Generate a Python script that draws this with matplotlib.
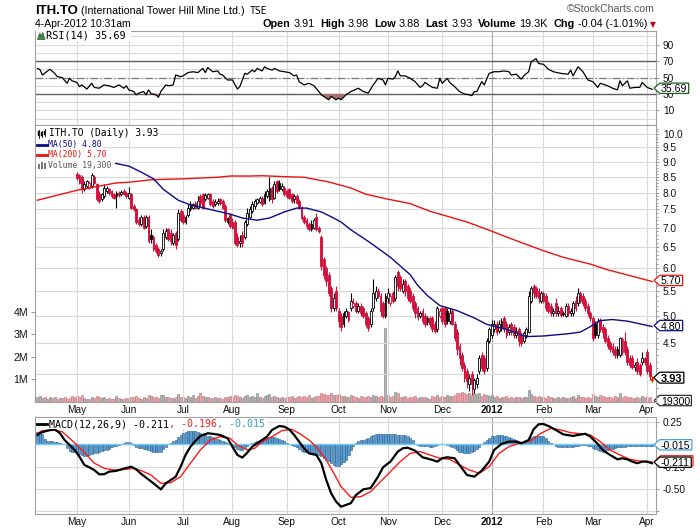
import numpy as np
import pandas as pd
import matplotlib
matplotlib.use("Agg")
import matplotlib.pyplot as plt
from matplotlib.path import Path
from matplotlib.patches import Rectangle, Polygon
from matplotlib.lines import Line2D
from matplotlib.ticker import NullFormatter

plt.rcParams['font.family'] = ['Liberation Sans', 'DejaVu Sans']

# ------------------------------------------------------------------ data
symbol = "ITH.TO"
company = "(International Tower Hill Mine Ltd.)"
exchange = "TSE"
stamp = "4-Apr-2012 10:31am"
quote_labels = ["Open", "High", "Low", "Last", "Volume", "Chg"]
quote_values = ["3.91", "3.98", "3.88", "3.93", "19.3K", "-0.04 (-1.01%)"]

holidays = ["2011-04-22", "2011-05-23", "2011-07-01", "2011-08-01", "2011-09-05",
            "2011-10-10", "2011-12-26", "2011-12-27", "2012-01-02", "2012-02-20"]
dates = pd.bdate_range("2011-04-07", "2012-04-04")
dates = dates[~dates.isin(pd.to_datetime(holidays))]

open_ = [8.95, 9.05, 9.20, 9.35, 9.25, 9.45, 9.55, 9.40, 9.50, 9.35,
         9.45, 9.30, 9.20, 9.10, 9.05, 8.95, 8.60, 8.55, 8.50, 8.10,
         8.20, 8.15, 8.20, 8.50, 8.25, 7.95, 7.80, 7.90, 8.05, 8.10,
         8.05, 7.95, 7.90, 8.00, 7.95, 8.05, 8.00, 7.85, 7.95, 7.60,
         7.50, 7.20, 7.10, 7.30, 7.05, 7.30, 6.80, 6.75, 6.55, 6.45,
         6.35, 6.45, 6.75, 6.95, 6.85, 6.60, 6.85, 6.70, 7.45, 7.35,
         7.15, 7.35, 7.50, 7.55, 7.70, 7.55, 7.90, 7.95, 7.80, 7.85,
         7.95, 7.75, 7.65, 7.70, 7.80, 7.75, 7.60, 7.15, 7.35, 7.15,
         7.15, 6.75, 6.60, 6.80, 6.75, 7.10, 7.30, 7.45, 7.60, 7.70,
         7.72, 7.85, 7.70, 7.90, 7.80, 8.15, 7.85, 8.35, 8.30, 8.10,
         8.15, 8.05, 8.10, 7.95, 7.80, 7.90, 7.75, 7.55, 7.30, 7.20,
         7.10, 6.95, 7.00, 7.30, 7.00, 6.75, 6.20, 6.00, 5.85, 5.55,
         5.15, 5.50, 5.10, 5.00, 4.85, 5.00, 5.08, 5.15, 5.20, 5.25,
         5.10, 5.20, 5.15, 5.05, 4.95, 4.85, 5.15, 5.35, 5.50, 5.40,
         5.25, 5.00, 5.35, 5.25, 5.45, 5.35, 5.90, 5.80, 5.50, 5.70,
         5.60, 5.50, 5.40, 5.25, 5.15, 5.00, 5.10, 5.00, 4.88, 4.95,
         4.95, 4.85, 4.75, 5.00, 5.15, 5.15, 5.10, 4.90, 5.10, 4.85,
         4.70, 4.45, 4.30, 4.15, 4.05, 3.85, 4.00, 3.78, 3.85, 4.05,
         4.30, 4.25, 4.10, 4.55, 4.65, 4.75, 4.85, 4.72, 4.80, 4.95,
         4.85, 4.70, 4.85, 4.80, 4.65, 4.75, 4.65, 4.55, 4.65, 4.70,
         5.30, 5.60, 5.55, 5.50, 5.30, 5.45, 5.40, 5.25, 5.20, 5.05,
         5.25, 5.05, 5.15, 5.03, 5.00, 5.20, 5.05, 5.05, 5.30, 5.25,
         5.45, 5.40, 5.30, 5.20, 5.05, 4.95, 4.85, 4.65, 4.90, 4.80,
         4.75, 4.60, 4.50, 4.45, 4.40, 4.30, 4.30, 4.35, 4.55, 4.40,
         4.25, 4.25, 4.12, 4.20, 4.15, 4.20, 4.25, 4.35, 4.15, 3.91]

high = [9.10, 9.25, 9.40, 9.40, 9.50, 9.65, 9.60, 9.60, 9.55, 9.50,
        9.50, 9.35, 9.30, 9.20, 9.10, 9.00, 8.65, 8.60, 8.55, 8.35,
        8.40, 8.35, 8.62, 8.55, 8.30, 8.05, 8.00, 8.25, 8.20, 8.15,
        8.08, 8.00, 8.05, 8.05, 8.08, 8.10, 8.05, 8.18, 8.00, 7.65,
        7.55, 7.30, 7.35, 7.35, 7.35, 7.35, 6.95, 6.80, 6.60, 6.50,
        6.45, 6.95, 7.00, 7.00, 6.95, 6.85, 6.90, 7.50, 7.50, 7.45,
        7.35, 7.65, 7.75, 7.70, 7.75, 7.90, 7.95, 8.00, 7.98, 8.00,
        8.00, 7.80, 7.80, 7.85, 7.85, 7.80, 7.65, 7.30, 7.40, 7.25,
        7.20, 6.85, 6.80, 6.90, 7.20, 7.55, 7.60, 7.75, 7.80, 7.85,
        7.90, 7.90, 8.05, 8.10, 8.50, 8.20, 8.35, 8.40, 8.40, 8.30,
        8.20, 8.10, 8.15, 8.00, 7.95, 7.95, 7.80, 7.60, 7.35, 7.25,
        7.15, 7.20, 7.25, 7.40, 7.05, 6.80, 6.25, 6.05, 5.90, 5.60,
        5.45, 5.60, 5.15, 5.05, 5.10, 5.15, 5.10, 5.45, 5.35, 5.30,
        5.25, 5.25, 5.20, 5.10, 5.00, 5.15, 5.75, 5.60, 5.55, 5.45,
        5.30, 5.45, 5.55, 5.45, 5.50, 5.85, 5.95, 5.85, 5.75, 5.75,
        5.65, 5.55, 5.45, 5.30, 5.20, 5.10, 5.15, 5.05, 5.00, 5.00,
        5.00, 4.90, 5.20, 5.15, 5.20, 5.20, 5.15, 5.15, 5.15, 4.90,
        4.75, 4.50, 4.35, 4.20, 4.10, 4.00, 4.05, 3.95, 4.00, 4.30,
        4.35, 4.30, 4.60, 4.80, 4.92, 4.92, 4.90, 4.92, 4.95, 5.00,
        4.90, 4.85, 4.88, 4.85, 4.80, 4.80, 4.70, 4.72, 4.80, 5.50,
        5.60, 5.65, 5.60, 5.55, 5.50, 5.50, 5.45, 5.30, 5.25, 5.15,
        5.35, 5.20, 5.20, 5.10, 5.25, 5.25, 5.15, 5.30, 5.40, 5.55,
        5.50, 5.45, 5.35, 5.25, 5.10, 5.00, 4.90, 4.95, 4.95, 4.85,
        4.80, 4.65, 4.55, 4.50, 4.45, 4.45, 4.62, 4.62, 4.70, 4.45,
        4.30, 4.30, 4.20, 4.25, 4.18, 4.35, 4.28, 4.40, 4.20, 3.98]

low = [8.90, 9.00, 9.15, 9.15, 9.20, 9.40, 9.35, 9.35, 9.30, 9.30,
       9.25, 9.15, 9.05, 9.00, 8.92, 8.88, 8.40, 8.25, 8.00, 8.05,
       8.15, 8.10, 8.15, 8.25, 7.75, 7.70, 7.75, 7.85, 8.00, 7.92,
       7.85, 7.80, 7.55, 7.88, 7.90, 7.92, 7.85, 7.80, 7.50, 7.45,
       7.10, 7.05, 7.05, 6.95, 7.00, 6.60, 6.60, 6.40, 6.35, 6.25,
       6.28, 6.40, 6.70, 6.65, 6.55, 6.55, 6.45, 6.65, 7.15, 7.10,
       7.10, 7.30, 7.45, 7.50, 7.50, 7.50, 7.60, 7.50, 7.75, 7.80,
       7.60, 7.55, 7.60, 7.62, 7.62, 7.50, 7.15, 7.10, 7.00, 6.95,
       6.55, 6.50, 6.50, 6.50, 6.70, 7.05, 7.25, 7.40, 7.50, 7.65,
       7.68, 7.60, 7.65, 7.85, 7.75, 7.70, 7.80, 8.00, 8.05, 8.05,
       7.90, 7.85, 7.80, 7.70, 7.70, 7.65, 7.50, 7.20, 7.10, 6.95,
       6.90, 6.92, 6.95, 6.90, 6.85, 5.95, 5.75, 5.60, 5.40, 5.08,
       5.10, 5.10, 4.80, 4.72, 4.80, 4.95, 4.88, 5.10, 5.15, 5.05,
       5.05, 5.00, 4.95, 4.80, 4.72, 4.80, 5.10, 5.30, 5.35, 5.00,
       4.95, 4.95, 5.25, 5.20, 5.25, 5.30, 5.50, 5.50, 5.45, 5.40,
       5.30, 5.25, 5.10, 4.95, 4.92, 4.95, 4.85, 4.80, 4.82, 4.80,
       4.70, 4.68, 4.70, 4.95, 4.85, 4.80, 4.85, 4.85, 4.82, 4.55,
       4.30, 4.15, 4.05, 3.88, 3.80, 3.75, 3.70, 3.72, 3.80, 4.00,
       4.05, 4.00, 4.05, 4.50, 4.60, 4.70, 4.65, 4.68, 4.72, 4.70,
       4.60, 4.65, 4.65, 4.60, 4.60, 4.45, 4.45, 4.50, 4.60, 4.68,
       5.25, 5.35, 5.35, 5.25, 5.25, 5.25, 5.10, 5.05, 5.00, 5.00,
       5.00, 5.00, 4.98, 5.00, 4.98, 5.00, 5.00, 5.00, 5.10, 5.20,
       5.25, 5.20, 5.10, 5.00, 4.90, 4.55, 4.60, 4.60, 4.70, 4.60,
       4.50, 4.40, 4.35, 4.30, 4.25, 4.25, 4.28, 4.30, 4.30, 4.15,
       4.10, 4.08, 4.05, 4.00, 3.98, 4.15, 4.15, 4.00, 3.92, 3.88]

close = [9.05, 9.20, 9.35, 9.25, 9.45, 9.55, 9.40, 9.50, 9.35, 9.45,
         9.30, 9.20, 9.10, 9.05, 8.95, 8.90, 8.45, 8.30, 8.10, 8.25,
         8.35, 8.30, 8.55, 8.30, 7.80, 7.75, 7.95, 8.15, 8.15, 7.98,
         7.90, 7.85, 7.98, 7.92, 8.02, 7.95, 7.90, 7.98, 7.55, 7.50,
         7.15, 7.10, 7.30, 7.00, 7.30, 6.65, 6.70, 6.45, 6.40, 6.30,
         6.40, 6.85, 6.90, 6.70, 6.65, 6.80, 6.55, 7.40, 7.20, 7.15,
         7.30, 7.55, 7.65, 7.65, 7.55, 7.75, 7.70, 7.55, 7.92, 7.95,
         7.65, 7.60, 7.72, 7.75, 7.70, 7.55, 7.20, 7.25, 7.05, 7.00,
         6.60, 6.55, 6.65, 6.60, 7.15, 7.40, 7.50, 7.65, 7.75, 7.80,
         7.85, 7.65, 7.95, 8.05, 8.15, 7.80, 8.25, 8.05, 8.10, 8.20,
         7.95, 7.90, 7.85, 7.75, 7.90, 7.70, 7.55, 7.25, 7.15, 7.05,
         6.95, 7.10, 7.20, 6.95, 6.90, 6.05, 5.85, 5.70, 5.45, 5.15,
         5.35, 5.15, 4.90, 4.80, 5.05, 5.10, 4.92, 5.30, 5.25, 5.10,
         5.20, 5.05, 5.00, 4.85, 4.78, 5.10, 5.45, 5.50, 5.40, 5.10,
         5.00, 5.40, 5.45, 5.40, 5.30, 5.80, 5.60, 5.55, 5.65, 5.50,
         5.35, 5.30, 5.15, 5.05, 4.98, 5.05, 4.90, 4.85, 4.95, 4.85,
         4.75, 4.72, 5.15, 5.10, 4.90, 4.85, 4.90, 5.05, 4.85, 4.60,
         4.40, 4.25, 4.10, 3.95, 3.90, 3.95, 3.85, 3.92, 3.95, 4.25,
         4.10, 4.05, 4.55, 4.75, 4.85, 4.85, 4.70, 4.85, 4.90, 4.75,
         4.65, 4.80, 4.70, 4.65, 4.72, 4.55, 4.50, 4.68, 4.75, 5.40,
         5.55, 5.45, 5.40, 5.35, 5.45, 5.30, 5.15, 5.10, 5.05, 5.10,
         5.05, 5.10, 5.02, 5.06, 5.20, 5.05, 5.10, 5.25, 5.15, 5.45,
         5.30, 5.25, 5.15, 5.05, 4.95, 4.60, 4.65, 4.90, 4.75, 4.70,
         4.55, 4.45, 4.40, 4.35, 4.30, 4.40, 4.60, 4.58, 4.35, 4.20,
         4.15, 4.12, 4.15, 4.05, 4.00, 4.25, 4.20, 4.05, 3.97, 3.93]

volume_k = [210, 260, 180, 230, 150, 200, 170, 240, 120, 190,
            160, 220, 130, 180, 250, 200, 280, 230, 320, 170,
            150, 140, 210, 180, 250, 230, 160, 200, 140, 180,
            120, 150, 260, 170, 130, 150, 190, 160, 240, 200,
            280, 180, 150, 220, 170, 300, 260, 210, 240, 180,
            320, 290, 200, 240, 170, 160, 210, 350, 230, 200,
            180, 260, 220, 300, 190, 280, 410, 250, 200, 230,
            180, 160, 220, 190, 170, 150, 240, 200, 260, 230,
            330, 280, 220, 190, 250, 300, 240, 260, 200, 380,
            210, 170, 250, 300, 350, 240, 280, 220, 190, 210,
            170, 230, 200, 250, 180, 220, 260, 200, 280, 240,
            300, 190, 220, 260, 280, 420, 360, 300, 330, 380,
            290, 310, 340, 280, 260, 240, 200, 300, 250, 220,
            180, 260, 210, 240, 280, 230, 330, 250, 200, 280,
            240, 3300, 300, 220, 250, 450, 380, 240, 200, 260,
            190, 230, 210, 250, 170, 200, 240, 210, 180, 150,
            260, 200, 320, 240, 260, 230, 290, 250, 280, 330,
            380, 420, 460, 390, 350, 400, 300, 380, 340, 410,
            280, 350, 300, 260, 300, 240, 250, 180, 220, 200,
            260, 190, 230, 170, 200, 240, 180, 210, 220, 520,
            360, 280, 230, 250, 200, 220, 180, 250, 200, 170,
            160, 210, 190, 230, 180, 160, 200, 250, 190, 330,
            240, 210, 180, 200, 170, 350, 280, 220, 300, 260,
            240, 200, 230, 190, 250, 210, 410, 230, 280, 200,
            220, 190, 180, 210, 170, 250, 200, 180, 220, 19.3]

ma50_day = [0, 12, 24, 31, 37, 42, 47, 51, 57, 62,
            67, 73, 78, 83, 89, 94, 100, 105, 109, 115,
            120, 123, 127, 135, 143, 151, 154, 158, 163, 170,
            177, 182, 190, 198, 205, 215, 220, 224, 228, 233,
            239, 244, 249]
ma50_val = [9.15, 9.18, 9.05, 8.95, 8.85, 8.65, 8.43, 8.10, 7.77, 7.63,
            7.55, 7.45, 7.37, 7.26, 7.20, 7.26, 7.43, 7.54, 7.54, 7.43,
            7.26, 7.15, 6.94, 6.60, 6.25, 5.85, 5.62, 5.40, 5.20, 5.10,
            4.96, 4.84, 4.75, 4.62, 4.63, 4.67, 4.70, 4.80, 4.91, 4.93,
            4.90, 4.85, 4.80]

ma200_day = [0, 16, 32, 37, 46, 59, 73, 78, 86, 91,
             100, 108, 118, 127, 133, 142, 151, 159, 167, 174,
             183, 191, 204, 213, 224, 231, 249]
ma200_val = [7.77, 8.07, 8.30, 8.32, 8.40, 8.43, 8.48, 8.52, 8.52, 8.53,
             8.50, 8.48, 8.33, 8.14, 7.95, 7.80, 7.67, 7.45, 7.29, 7.15,
             6.93, 6.73, 6.43, 6.25, 6.09, 5.96, 5.70]

rsi_day = [0, 1, 2, 5, 7, 8, 10, 12, 13, 14,
           16, 17, 18, 20, 22, 23, 25, 27, 29, 31,
           33, 35, 36, 37, 39, 40, 41, 43, 44, 45,
           46, 48, 49, 50, 52, 53, 55, 56, 58, 59,
           61, 63, 65, 67, 68, 69, 71, 73, 74, 75,
           77, 79, 81, 82, 84, 85, 87, 88, 89, 91,
           92, 93, 95, 96, 98, 100, 102, 104, 105, 106,
           108, 110, 112, 114, 115, 117, 118, 119, 121, 122,
           123, 125, 127, 130, 132, 134, 136, 138, 140, 141,
           142, 144, 145, 146, 147, 149, 151, 153, 155, 156,
           157, 159, 160, 162, 163, 164, 166, 167, 169, 171,
           173, 175, 176, 177, 178, 180, 181, 183, 185, 187,
           189, 191, 192, 194, 196, 197, 199, 200, 202, 203,
           205, 207, 209, 212, 215, 216, 217, 219, 221, 223,
           225, 227, 228, 231, 233, 235, 236, 237, 239, 240,
           242, 244, 245, 247, 249]
rsi_val = [61, 59.6, 53, 60, 55, 51, 50, 43, 49, 46,
           44, 39, 41, 36, 43, 38, 37, 41, 40, 38,
           41, 37, 40, 35, 33, 29, 31, 33, 29, 35,
           30.5, 29, 26, 33, 41, 40, 41, 53, 51, 52,
           56, 57, 56, 61, 56, 62, 57, 58, 54, 53,
           47, 47, 36, 39, 55, 54, 59, 57, 61, 58,
           63, 61, 59, 61, 58, 57, 56, 52, 53, 45,
           41, 43, 40, 33, 29, 25, 23, 27, 23, 25,
           23, 29, 33, 37, 33, 31, 41, 49, 47, 41,
           49, 48, 51, 58, 52, 52, 49, 45, 38, 40,
           44, 40, 38, 37, 49, 43, 49, 44, 39, 33,
           30, 29, 28, 33, 33, 45, 41, 55, 57, 57,
           58, 57, 53, 54, 48, 52, 57, 69, 73, 67,
           66, 60, 57, 55, 54, 59, 52, 63, 57, 47,
           45, 38, 43, 40, 37, 35, 46, 40, 46, 37,
           38, 38, 44, 38, 35.69]

macd_day = [0, 1, 4, 7, 9, 11, 13, 15, 17, 19,
            21, 23, 25, 27, 29, 32, 35, 38, 40, 42,
            44, 47, 50, 52, 54, 56, 58, 60, 62, 64,
            66, 69, 71, 74, 77, 79, 81, 83, 85, 87,
            90, 93, 95, 98, 100, 102, 104, 106, 108, 110,
            113, 115, 117, 119, 121, 123, 125, 127, 129, 132,
            135, 138, 140, 143, 146, 148, 150, 153, 156, 160,
            162, 164, 166, 169, 172, 174, 177, 180, 183, 185,
            188, 191, 194, 196, 199, 201, 203, 205, 207, 210,
            213, 217, 219, 222, 224, 227, 229, 232, 235, 237,
            239, 241, 243, 245, 247, 249]
macd_val = [0.107, 0.13, 0.155, 0.17, 0.13, 0.05, -0.006, -0.06, -0.137, -0.23,
            -0.257, -0.287, -0.335, -0.335, -0.306, -0.296, -0.272, -0.25, -0.28, -0.33,
            -0.373, -0.437, -0.505, -0.437, -0.40, -0.362, -0.25, -0.118, -0.025, 0.04,
            0.096, 0.126, 0.12, 0.107, 0.07, -0.025, -0.118, -0.148, -0.092, -0.025,
            0.032, 0.088, 0.163, 0.208, 0.20, 0.17, 0.107, 0.032, -0.043, -0.10,
            -0.118, -0.21, -0.40, -0.55, -0.643, -0.70, -0.68, -0.66, -0.57, -0.505,
            -0.49, -0.362, -0.257, -0.193, -0.08, -0.043, -0.036, -0.07, -0.144, -0.174,
            -0.193, -0.155, -0.144, -0.155, -0.268, -0.343, -0.362, -0.294, -0.193, -0.062,
            0.006, 0.032, 0.032, 0.013, 0.05, 0.17, 0.227, 0.23, 0.208, 0.163,
            0.114, 0.096, 0.107, 0.12, 0.088, 0.006, -0.062, -0.118, -0.167, -0.155,
            -0.167, -0.193, -0.211, -0.193, -0.193, -0.211]

signal_day = [0, 2, 6, 10, 13, 16, 20, 23, 27, 31,
              35, 39, 42, 46, 50, 54, 58, 62, 66, 70,
              74, 78, 81, 85, 88, 91, 95, 99, 103, 106,
              110, 113, 117, 120, 123, 127, 131, 135, 139, 143,
              147, 151, 155, 159, 163, 167, 171, 175, 179, 183,
              187, 191, 195, 200, 204, 208, 212, 216, 220, 224,
              228, 232, 236, 240, 244, 249]
signal_val = [0.126, 0.155, 0.163, 0.144, 0.07, -0.006, -0.118, -0.21, -0.268, -0.287,
              -0.28, -0.268, -0.294, -0.343, -0.437, -0.43, -0.362, -0.21, -0.062, 0.05,
              0.088, 0.07, -0.006, -0.062, -0.043, 0.032, 0.088, 0.155, 0.17, 0.126,
              0.05, -0.025, -0.174, -0.32, -0.474, -0.594, -0.587, -0.53, -0.418, -0.306,
              -0.193, -0.10, -0.08, -0.118, -0.155, -0.167, -0.23, -0.287, -0.324, -0.25,
              -0.10, -0.025, 0.013, 0.043, 0.126, 0.182, 0.163, 0.133, 0.12, 0.107,
              0.032, -0.062, -0.118, -0.167, -0.186, -0.196]

hist = [0.14, 0.13, 0.12, 0.06, 0.04, 0.04, 0.035, 0.03, 0.03, 0.02,
        0.005, 0.0, -0.04, -0.07, -0.09, -0.09, -0.10, -0.11, -0.12, -0.13,
        -0.13, -0.12, -0.11, -0.10, -0.10, -0.09, -0.07, -0.06, -0.06, -0.05,
        -0.03, -0.02, -0.02, -0.01, 0.01, 0.02, 0.03, 0.03, 0.02, -0.01,
        -0.03, -0.04, -0.04, -0.05, -0.05, -0.06, -0.07, -0.08, -0.09, -0.09,
        -0.08, -0.05, -0.03, 0.0, 0.02, 0.04, 0.05, 0.08, 0.11, 0.13,
        0.14, 0.15, 0.15, 0.15, 0.15, 0.14, 0.13, 0.12, 0.11, 0.10,
        0.09, 0.08, 0.07, 0.06, 0.05, 0.04, 0.03, 0.02, 0.01, -0.01,
        -0.03, -0.05, -0.06, -0.06, -0.04, -0.02, 0.0, 0.02, 0.03, 0.04,
        0.05, 0.06, 0.06, 0.07, 0.08, 0.08, 0.08, 0.07, 0.06, 0.05,
        0.04, 0.02, 0.01, -0.01, -0.02, -0.03, -0.05, -0.07, -0.08, -0.09,
        -0.10, -0.11, -0.11, -0.12, -0.12, -0.13, -0.15, -0.17, -0.19, -0.21,
        -0.23, -0.24, -0.24, -0.22, -0.20, -0.17, -0.12, -0.06, -0.02, 0.02,
        0.04, 0.05, 0.05, 0.06, 0.07, 0.09, 0.11, 0.12, 0.12, 0.12,
        0.12, 0.12, 0.12, 0.12, 0.12, 0.12, 0.11, 0.11, 0.11, 0.11,
        0.10, 0.07, 0.05, 0.01, -0.01, -0.02, -0.02, -0.02, -0.02, -0.03,
        -0.03, -0.02, -0.01, 0.01, 0.01, 0.0, -0.01, -0.02, -0.03, -0.04,
        -0.06, -0.08, -0.09, -0.10, -0.10, -0.10, -0.09, -0.07, -0.05, -0.03,
        0.0, 0.03, 0.05, 0.07, 0.09, 0.10, 0.11, 0.11, 0.11, 0.10,
        0.09, 0.08, 0.07, 0.06, 0.05, 0.04, 0.03, 0.03, 0.04, 0.06,
        0.08, 0.09, 0.10, 0.10, 0.10, 0.09, 0.07, 0.04, 0.02, 0.0,
        -0.02, -0.03, -0.03, -0.03, -0.03, -0.03, -0.03, -0.03, -0.02, -0.02,
        -0.01, -0.01, -0.01, -0.02, -0.02, -0.04, -0.05, -0.06, -0.07, -0.08,
        -0.07, -0.06, -0.05, -0.05, -0.04, -0.03, -0.03, -0.03, -0.03, -0.02,
        -0.02, -0.02, -0.02, -0.02, -0.02, -0.015, -0.015, -0.015, -0.015, -0.015]

last_price = 3.93
last_ma50, last_ma200 = 4.80, 5.70
last_rsi = 35.69
last_macd, last_signal, last_hist = -0.211, -0.196, -0.015
last_volume = 19300

n = len(dates)
for arr in (open_, high, low, close, volume_k, hist):
    assert len(arr) == n, len(arr)

# ------------------------------------------------------------------ figure
W, H = 700, 530
fig = plt.figure(figsize=(W / 100, H / 100), dpi=100)
fig.patch.set_facecolor('white')


def fx(x):
    return x / W


def fy(y):
    return 1 - y / H


def rect(x0, y0, x1, y1):
    return [fx(x0), fy(y1), (x1 - x0) / W, (y1 - y0) / H]


L, R = 35, 656
ax_r = fig.add_axes(rect(L, 31, R, 125))
ax_v = fig.add_axes(rect(L, 125, R, 402))
ax_p = fig.add_axes(rect(L, 125, R, 402))
ax_m = fig.add_axes(rect(L, 417, R, 514))
ax_v.set_zorder(0)
ax_p.set_zorder(1)
ax_p.patch.set_visible(False)

GRID = '#dadada'
RED = '#d0103a'
NAVY = '#0b0b86'
SANS = 'Liberation Sans'
MONO = 'DejaVu Sans Mono'
TICK_FS = 7.3

x = np.arange(n)
o = np.array(open_); hi = np.array(high); lo = np.array(low); c = np.array(close)
prev = np.concatenate([[o[0]], c[:-1]])
down = c < prev
col = np.where(down, RED, 'black')
hollow = c > o

month_idx = [i for i in range(1, n) if dates[i].month != dates[i - 1].month]
month_lbl = ['2012' if dates[i].month == 1 else dates[i].strftime('%b') for i in month_idx]


def base_style(ax, labels):
    for s in ax.spines.values():
        s.set_color('#a0a0a0')
        s.set_linewidth(0.8)
    ax.set_xlim(-1.0, n + 0.6)
    ax.set_xticks(month_idx)
    ax.grid(axis='x', color=GRID, lw=0.8)
    for gl, lb in zip(ax.get_xgridlines(), month_lbl):
        if lb == '2012':
            gl.set_color('#a8a8a8')
    ax.set_axisbelow(True)
    if labels:
        ax.set_xticklabels(month_lbl, fontsize=TICK_FS, color='#111')
        for t in ax.get_xticklabels():
            if t.get_text() == '2012':
                t.set_fontweight('bold')
        ax.tick_params(axis='x', length=0, pad=2.5)
    else:
        ax.tick_params(axis='x', length=0, labelbottom=False)
    ax.yaxis.tick_right()
    ax.tick_params(axis='y', which='both', labelsize=TICK_FS, pad=3, colors='#888',
                   labelcolor='#111', length=2, width=0.6)


# ---------------- RSI panel
base_style(ax_r, False)
ax_r.set_ylim(-7.6, 106.4)
for lv in range(0, 101, 10):
    ax_r.axhline(lv, color=GRID, lw=0.8, zorder=0.5)
ax_r.axhline(70, color='#606060', lw=1.0, zorder=1)
ax_r.axhline(30, color='#606060', lw=1.0, zorder=1)
ax_r.axhline(50, color='#777777', lw=0.9, ls=(0, (6, 2, 1, 2)), zorder=1)
ax_r.set_yticks([10, 30, 50, 70, 90])
ax_r.set_yticklabels(['10', '30', '50', '70', '90'])
rd = np.array(rsi_day); rv = np.array(rsi_val)
ax_r.fill_between(rd, rv, 30, where=rv < 30, interpolate=True, color='#a8706e', lw=0, zorder=2)
ax_r.plot(rd, rv, color='black', lw=0.9, zorder=3)

# ---------------- volume underlay
ax_v.set_xlim(-1.0, n + 0.6)
ax_v.set_ylim(0, 12270)
for s in ax_v.spines.values():
    s.set_visible(False)
ax_v.set_xticks([])
vcol = np.where(down, '#eba7ac', '#b5b5b5')
vedge = np.where(down, '#d27c85', '#8e8e8e')
ax_v.bar(x, volume_k, width=0.8, color=vcol, edgecolor=vedge, linewidth=0.5)
ax_v.yaxis.tick_left()
ax_v.set_yticks([1000, 2000, 3000, 4000])
ax_v.set_yticklabels(['1M', '2M', '3M', '4M'])
ax_v.tick_params(axis='y', labelsize=7.6, pad=2, length=3, width=0.6, colors='#888', labelcolor='#111')

# ---------------- price panel
base_style(ax_p, True)
ax_p.set_yscale('log')
ax_p.set_ylim(3.60, 10.35)
pt = [4.0, 4.5, 5.0, 5.5, 6.0, 6.5, 7.0, 7.5, 8.0, 8.5, 9.0, 9.5, 10.0]
ax_p.set_yticks(pt)
ax_p.set_yticklabels(['' if v == 4.0 else f'{v:.1f}' for v in pt])
ax_p.set_yticks(np.arange(3.7, 10.3, 0.1), minor=True)
ax_p.yaxis.set_minor_formatter(NullFormatter())
ax_p.tick_params(axis='y', which='minor', length=1.2)
ax_p.grid(axis='y', which='major', color=GRID, lw=0.8)

ax_p.bar(x[-1], hi[-1] - lo[-1], bottom=lo[-1], width=1.7, color='#ffff3a', zorder=2)
ax_p.vlines(x, lo, hi, colors=col, lw=0.8, zorder=3)
face = [('white' if h else cc) for h, cc in zip(hollow, col)]
ax_p.bar(x, np.maximum(np.abs(c - o), 0.004), bottom=np.minimum(o, c), width=0.75,
         color=face, edgecolor=col, linewidth=0.6, zorder=4)
ax_p.plot(ma200_day, ma200_val, color='#ee1111', lw=1.0, zorder=5)
ax_p.plot(ma50_day, ma50_val, color=NAVY, lw=1.0, zorder=5)

# ---------------- MACD panel
base_style(ax_m, True)
ax_m.set_ylim(-0.782, 0.309)
mt = [0.25, 0.0, -0.25, -0.5, -0.75]
ax_m.set_yticks(mt)
ax_m.set_yticklabels(['0.25', '', '-0.25', '-0.50', ''])
ax_m.grid(axis='y', color=GRID, lw=0.8)
ax_m.bar(x, hist, width=0.85, color='#5b9dd3', edgecolor='#285e8e', linewidth=0.4, zorder=2)
ax_m.axhline(0, color='#74cdf2', lw=1.0, zorder=3)
ax_m.plot(signal_day, signal_val, color='#ff1a1a', lw=1.0, zorder=4)
ax_m.plot(macd_day, macd_val, color='black', lw=1.6, zorder=5)


# ---------------- right-hand value tags
def tag_box(x0, y0, width, height, mutation_size):
    fs = mutation_size
    yb = y0 + 0.08 * fs
    yt = y0 + 1.06 * fs
    xl = x0 - 0.12 * fs
    xr = x0 + width + 0.12 * fs
    tip = 0.55 * (yt - yb)
    ym = (yb + yt) / 2
    verts = [(xl - tip, ym), (xl, yb), (xr, yb), (xr, yt), (xl, yt), (xl - tip, ym)]
    codes = [Path.MOVETO, Path.LINETO, Path.LINETO, Path.LINETO, Path.LINETO, Path.CLOSEPOLY]
    return Path(verts, codes)


def tag(ax, y, text, ec, weight='normal', fs=7.6, z=20, dx=5):
    ax.annotate(text, xy=(1, y), xycoords=('axes fraction', 'data'), xytext=(dx, 0),
                textcoords='offset pixels', ha='left', va='center', fontsize=fs,
                fontweight=weight, family=SANS, color='black',
                bbox=dict(boxstyle=tag_box, fc='white', ec=ec, lw=0.9),
                annotation_clip=False, zorder=z)


tag(ax_r, last_rsi, f'{last_rsi:.2f}', '#1f5f1f')
tag(ax_p, last_ma200, f'{last_ma200:.2f}', '#ee1111')
tag(ax_p, last_ma50, f'{last_ma50:.2f}', NAVY)
tag(ax_p, last_price, f'{last_price:.2f}', 'black', weight='bold', fs=8.0)
tag(ax_v, last_volume / 1000, f'{last_volume}', '#333333')
tag(ax_m, last_hist, f'{last_hist:.3f}', '#4aa3df')
tag(ax_m, last_signal, f'{last_signal:.3f}', '#ff1a1a', z=20, dx=6)
tag(ax_m, last_macd, f'{last_macd:.3f}', 'black', z=21)

# ---------------- figure-level text helpers
renderer = fig.canvas.get_renderer()


def seq(xp, yp, pieces, align='left', zorder=12):
    items = []
    for s, kw, gap in pieces:
        t = fig.text(0, fy(yp), s, va='center', ha='left', zorder=zorder, **kw)
        w = t.get_window_extent(renderer=renderer).width
        items.append((t, w, gap))
    total = sum(w + g for _, w, g in items) - items[-1][2]
    cur = xp - total if align == 'right' else xp
    for t, w, g in items:
        t.set_x(fx(cur))
        cur += w + g


def frect(x0, y0, x1, y1, **kw):
    r = Rectangle((fx(x0), fy(y1)), (x1 - x0) / W, (y1 - y0) / H,
                  transform=fig.transFigure, **kw)
    fig.add_artist(r)


def fline(x0, y0, x1, y1, **kw):
    fig.add_artist(Line2D([fx(x0), fx(x1)], [fy(y0), fy(y1)], transform=fig.transFigure, **kw))


# header
seq(35, 11, [(symbol, dict(family=SANS, fontsize=9.5, fontweight='bold', color='black'), 3),
             (company, dict(family=SANS, fontsize=7.7, color='black'), 5),
             (exchange, dict(family=MONO, fontsize=7.0, color='black'), 0)])
fig.text(fx(35), fy(24), stamp, family=SANS, fontsize=7.5, va='center', ha='left')
pieces = []
for lab, val in zip(quote_labels, quote_values):
    pieces.append((lab, dict(family=SANS, fontsize=7.8, fontweight='bold', color='black'), 3))
    pieces.append((val, dict(family=SANS, fontsize=7.8, color='black'), 5.5))
seq(647, 24, pieces, align='right')
fig.text(fx(652.5), fy(24.5), '\u25BC', family=['DejaVu Sans'], fontsize=5.5, color='#c0001a',
         ha='center', va='center')
fig.text(fx(655), fy(9), '\u00A9StockCharts.com', family=SANS, fontsize=7.6, color='#555555',
         ha='right', va='center')

# RSI legend
frect(35.5, 31.5, 131, 41, facecolor='white', edgecolor='none', zorder=10)
fig.add_artist(Polygon([(fx(37.5), fy(39.5)), (fx(39.8), fy(33)), (fx(41.3), fy(36)),
                        (fx(42.8), fy(32.5)), (fx(45), fy(39.5))], closed=True,
                       transform=fig.transFigure, facecolor='#3f8a3f', edgecolor='#2a5a2a',
                       lw=0.5, zorder=11))
seq(46, 36, [(f'RSI(14) {last_rsi:.2f}', dict(family=MONO, fontsize=7.4, color='black'), 0)])

# price legend
frect(35.5, 126, 160, 139.5, facecolor='white', edgecolor='none', zorder=10)
frect(35.5, 139.5, 104, 150, facecolor='white', edgecolor='none', zorder=10)
frect(35.5, 150, 110, 160, facecolor='white', edgecolor='none', zorder=10)
frect(35.5, 160, 114.5, 170.5, facecolor='white', edgecolor='none', zorder=10)
for cx, y0, y1, b0, b1 in [(38.5, 129.5, 137.5, 131, 136), (41.5, 130.5, 137, 132, 135.5),
                           (44.5, 129, 136, 130.5, 134.5)]:
    fline(cx, y0, cx, y1, color='black', lw=0.6, zorder=11)
    frect(cx - 0.9, b0, cx + 0.9, b1, facecolor='black', edgecolor='black', lw=0.3, zorder=11)
seq(49, 133.5, [(f'{symbol} (Daily) {last_price:.2f}', dict(family=MONO, fontsize=6.9, color='black'), 0)])
fline(37, 144.5, 46.5, 144.5, color=NAVY, lw=2.0, zorder=11)
seq(48, 144.5, [(f'MA(50) {last_ma50:.2f}', dict(family=MONO, fontsize=5.9, color=NAVY), 0)])
fline(37, 155, 46.5, 155, color='#ee1111', lw=2.0, zorder=11)
seq(48, 155, [(f'MA(200) {last_ma200:.2f}', dict(family=MONO, fontsize=5.9, color='#ee1111'), 0)])
for bx, bt in [(38.5, 164), (41.5, 162), (44.5, 163.2)]:
    frect(bx - 1.0, bt, bx + 1.0, 168.5, facecolor='#7a7a7a', edgecolor='none', zorder=11)
seq(48, 165.5, [(f'Volume {last_volume:,}', dict(family=MONO, fontsize=5.9, color='#555555'), 0)])

# MACD legend
frect(35.5, 417.5, 268, 429, facecolor='white', edgecolor='none', zorder=10)
fline(37, 424, 46.5, 424, color='black', lw=2.0, zorder=11)
seq(49, 424.5, [(f'MACD(12,26,9) {last_macd:.3f}', dict(family=MONO, fontsize=7.2, color='black'), 0),
                (f', {last_signal:.3f}', dict(family=MONO, fontsize=7.2, color='#ff1a1a'), 0),
                (f', {last_hist:.3f}', dict(family=MONO, fontsize=7.2, color='#3399cc'), 0)])

fig.savefig('out.png', dpi=100, facecolor='white')
